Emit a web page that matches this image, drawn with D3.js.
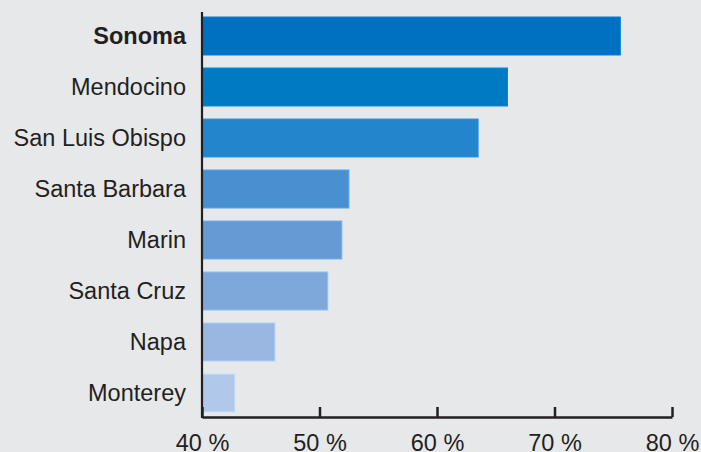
<!DOCTYPE html>
<html><head><meta charset="utf-8">
<script src="https://cdn.jsdelivr.net/npm/d3@7"></script>
<style>html,body{margin:0;padding:0;background:#e7e8ea;}svg{display:block;}</style>
</head><body>
<script>
const categories = ["Sonoma","Mendocino","San Luis Obispo","Santa Barbara","Marin","Santa Cruz","Napa","Monterey"];
const values = [75.6, 66.0, 63.5, 52.5, 51.9, 50.7, 46.2, 42.8];
const colors = ["#0070c0","#007ac3","#2385cb","#4890d0","#659bd4","#7ea8da","#99b7e1","#b0c8ea"];
const ticks = [40, 50, 60, 70, 80];
const tickLabels = ["40 %","50 %","60 %","70 %","80 %"];

const W = 701, H = 452;
const svg = d3.select("body").append("svg").attr("width", W).attr("height", H);
svg.append("rect").attr("width", W).attr("height", H).attr("fill", "#e7e8ea");

const x = d3.scaleLinear().domain([40, 80]).range([202, 672]);
const y = d3.scaleBand().domain(categories).range([10.5, 418.5]).paddingInner(0.255).paddingOuter(0.1275);
const font = "'Liberation Sans', Arial, Helvetica, sans-serif";

svg.selectAll("rect.bar").data(categories).enter().append("rect")
  .attr("class","bar")
  .attr("x", x(40))
  .attr("y", d => y(d))
  .attr("width", (d,i) => x(values[i]) - x(40))
  .attr("height", y.bandwidth())
  .attr("fill", (d,i) => colors[i])
  .attr("stroke", (d,i) => d3.color(colors[i]).brighter(0.35))
  .attr("stroke-width", 1);

svg.selectAll("text.cat").data(categories).enter().append("text")
  .attr("class","cat")
  .attr("x", 186)
  .attr("y", d => y(d) + y.bandwidth()/2)
  .attr("dy", "0.35em")
  .attr("text-anchor", "end")
  .attr("font-family", font)
  .attr("font-size", 23.5)
  .attr("font-weight", (d,i) => i === 0 ? "bold" : "normal")
  .attr("fill", "#231f20")
  .text(d => d);

// y axis line
svg.append("line").attr("x1", 202).attr("x2", 202).attr("y1", 12).attr("y2", 418)
  .attr("stroke", "#231f20").attr("stroke-width", 2.2);

// x axis
const xAxis = d3.axisBottom(x).tickValues(ticks).tickFormat((d,i) => tickLabels[i]).tickSize(-10).tickSizeOuter(0).tickPadding(0);
const g = svg.append("g").attr("transform", "translate(0,417)").call(xAxis);
g.select(".domain").attr("stroke", "#231f20").attr("stroke-width", 2.5);
g.selectAll(".tick line").attr("stroke", "#231f20").attr("stroke-width", 2.5);
g.selectAll(".tick text").attr("font-family", font).attr("font-size", 23.5).attr("fill", "#231f20")
  .attr("y", 34).attr("dy", 0);
</script>
</body></html>
